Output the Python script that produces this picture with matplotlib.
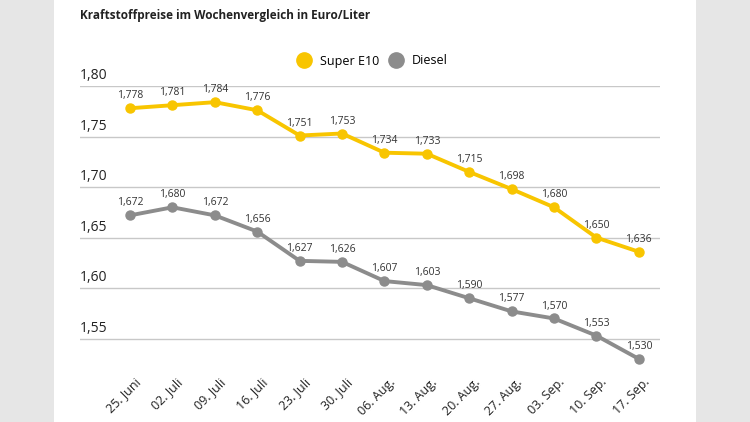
import matplotlib
matplotlib.use("Agg")
import matplotlib.pyplot as plt
import matplotlib.transforms as mtransforms
from matplotlib.patches import Rectangle
from matplotlib.lines import Line2D

plt.rcParams['font.family'] = ['Open Sans', 'DejaVu Sans']

dates = ["25. Juni", "02. Juli", "09. Juli", "16. Juli", "23. Juli", "30. Juli",
         "06. Aug.", "13. Aug.", "20. Aug.", "27. Aug.", "03. Sep.", "10. Sep.", "17. Sep."]
super_e10 = [1.778, 1.781, 1.784, 1.776, 1.751, 1.753, 1.734, 1.733, 1.715, 1.698, 1.680, 1.650, 1.636]
diesel = [1.672, 1.680, 1.672, 1.656, 1.627, 1.626, 1.607, 1.603, 1.590, 1.577, 1.570, 1.553, 1.530]
yticks = [1.55, 1.60, 1.65, 1.70, 1.75, 1.80]

yellow = "#f8c500"
grey = "#8c8c8c"

fig = plt.figure(figsize=(7.5, 4.22), dpi=100, facecolor="#e6e6e6")
fig.patches.append(Rectangle((54/750, 0), (696-54)/750, 1, transform=fig.transFigure,
                             facecolor="white", edgecolor="none", zorder=-10))

ax = fig.add_axes([80/750, 1-369/422, 580/750, (369-86)/422])
ax.set_facecolor("none")
x = list(range(len(dates)))

for vals, col in [(super_e10, yellow), (diesel, grey)]:
    ax.plot(x, vals, color=col, lw=2.8, marker="o", ms=6.5, zorder=3, clip_on=False)
    for xi, v in zip(x, vals):
        ax.annotate(f"{v:.3f}".replace(".", ","), (xi, v), xytext=(0, 5),
                    textcoords="offset points", ha="center", va="bottom",
                    fontsize=7.5, color="#333333")

ax.set_xlim(-1.18, 12.5)
ax.set_ylim(1.52, 1.80)
for t in yticks:
    ax.axhline(t, color="#c8c8c8", lw=1, zorder=1)
    ax.text(-1.18, t + 0.003, f"{t:.2f}".replace(".", ","), fontsize=10,
            color="#222222", ha="left", va="bottom")

ax.set_yticks([])
ax.set_xticks(x)
ax.set_xticklabels(dates, rotation=45, ha="right", rotation_mode="anchor",
                   fontsize=9, color="#222222")
ax.tick_params(axis="x", length=0, pad=5)
shift = mtransforms.ScaledTranslation(4/100, 0, fig.dpi_scale_trans)
for lbl in ax.get_xticklabels():
    lbl.set_transform(lbl.get_transform() + shift)
for s in ax.spines.values():
    s.set_visible(False)

fig.text(80/750, 1-15/422, "Kraftstoffpreise im Wochenvergleich in Euro/Liter",
         fontsize=8.5, fontweight="bold", color="#222222", ha="left", va="center")

handles = [Line2D([], [], marker="o", ls="none", color=yellow, ms=11),
           Line2D([], [], marker="o", ls="none", color=grey, ms=11)]
fig.legend(handles, ["Super E10", "Diesel"], loc="center", bbox_to_anchor=(372/750, 1-61/422),
           ncol=2, frameon=False, fontsize=9, handletextpad=0.7, columnspacing=0.7,
           handlelength=1.2)

fig.savefig("out.png", dpi=100, facecolor=fig.get_facecolor())
